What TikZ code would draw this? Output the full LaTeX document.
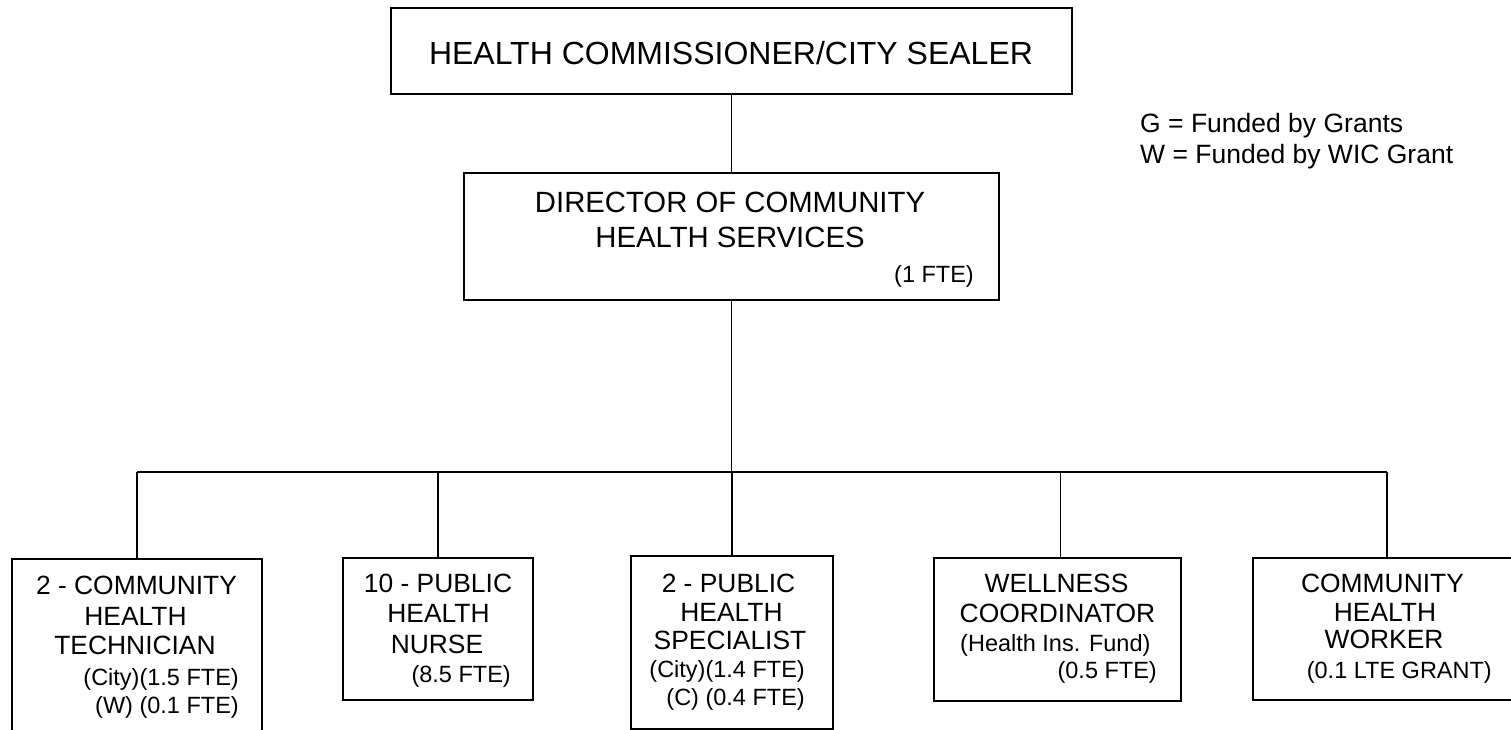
\documentclass[tikz,border=0pt]{standalone}
\usepackage{fontspec}
\setmainfont{Liberation Sans}
\begin{document}
\begin{tikzpicture}[x=1pt,y=-1pt,
  box/.style={draw=black,line width=2pt,rectangle,inner sep=0pt,anchor=north west},
  conn/.style={draw=black,line width=1.6pt},
  ftop/.style={font=\fontsize{32}{38}\selectfont,inner sep=0pt},
  fdir/.style={font=\fontsize{29.3}{34}\selectfont,inner sep=0pt},
  flow/.style={font=\fontsize{26.4}{30}\selectfont,inner sep=0pt},
  fsmall/.style={font=\fontsize{23.5}{28}\selectfont,inner sep=0pt},
  fleg/.style={font=\fontsize{26.5}{30}\selectfont,inner sep=0pt}]
\useasboundingbox (0,0) rectangle (1511,730);
\clip (0,0) rectangle (1511,730);
\fill[white] (0,0) rectangle (1511,730);

% boxes
\node[box,minimum width=681pt,minimum height=86pt] (top) at (390,7) {};
\node[box,minimum width=535pt,minimum height=127pt] (dir) at (463,172) {};
\node[box,minimum width=250pt,minimum height=200pt] (b1) at (11,558) {};
\node[box,minimum width=190pt,minimum height=142pt] (b2) at (342,557) {};
\node[box,minimum width=202pt,minimum height=173pt] (b3) at (630,555) {};
\node[box,minimum width=247pt,minimum height=143pt] (b4) at (933,557) {};
\node[box,minimum width=268pt,minimum height=142pt] (b5) at (1252,557) {};

% connectors
\coordinate (bus) at (731,472);
\draw[conn] (top.south) -- (dir.north);
\draw[conn] (dir.south) -- (dir.south |- bus);
\draw[conn] (b1.north |- bus) -- (b5.north |- bus);
\draw[conn] (b1.north |- bus) -- (b1.north);
\draw[conn] (b2.north |- bus) -- (b2.north);
\draw[conn] (b3.north |- bus) -- (b3.north);
\draw[conn] ([xshift=3pt]b4.north |- bus) -- ([xshift=3pt]b4.north);
\draw[conn] (b5.north |- bus) -- (b5.north);

% top text
\node[ftop,anchor=base] (ttop) at (731,65) {HEALTH COMMISSIONER/CITY SEALER};

% director text
\node[fdir,anchor=base] (td1) at (730,212) {DIRECTOR OF COMMUNITY};
\node[fdir,anchor=base] (td2) at (730,247) {HEALTH SERVICES};
\node[fsmall,anchor=base east] (td3) at (974,282) {(1 FTE)};

% legend
\node[fleg,anchor=base west] (lg1) at (1140,133) {G = Funded by Grants};
\node[fleg,anchor=base west] (lg2) at (1140,164) {W = Funded by WIC Grant};

% box 1
\node[flow,anchor=base] (t11) at (136.5,594) {2 - COMMUNITY};
\node[flow,anchor=base] (t12) at (135.5,625) {HEALTH};
\node[flow,anchor=base] (t13) at (135,654) {TECHNICIAN};
\node[fsmall,anchor=base east] (t14) at (239,685) {(City)(1.5 FTE)};
\node[fsmall,anchor=base east] (t15) at (239,713) {(W) (0.1 FTE)};

% box 2
\node[flow,anchor=base] (t21) at (438,592) {10 - PUBLIC};
\node[flow,anchor=base] (t22) at (438.5,622) {HEALTH};
\node[flow,anchor=base] (t23) at (437,653) {NURSE};
\node[fsmall,anchor=base east] (t24) at (511,682) {(8.5 FTE)};

% box 3
\node[flow,anchor=base] (t31) at (728.5,592) {2 - PUBLIC};
\node[flow,anchor=base] (t32) at (731.5,621) {HEALTH};
\node[flow,anchor=base] (t33) at (730,649) {SPECIALIST};
\node[fsmall,anchor=base east] (t34) at (805,677) {(City)(1.4 FTE)};
\node[fsmall,anchor=base east] (t35) at (805,705) {(C) (0.4 FTE)};

% box 4
\node[flow,anchor=base] (t41) at (1056.5,592) {WELLNESS};
\node[flow,anchor=base] (t42) at (1057.5,622) {COORDINATOR};
\node[fsmall,anchor=base west] (t43) at (960,651) {(Health Ins. Fund)};
\node[fsmall,anchor=base east] (t44) at (1157,678) {(0.5 FTE)};

% box 5
\node[flow,anchor=base] (t51) at (1382.5,592) {COMMUNITY};
\node[flow,anchor=base] (t52) at (1385,621) {HEALTH};
\node[flow,anchor=base] (t53) at (1384,648) {WORKER};
\node[fsmall,anchor=base east] (t54) at (1492,678) {(0.1 LTE GRANT)};
\end{tikzpicture}
\end{document}
